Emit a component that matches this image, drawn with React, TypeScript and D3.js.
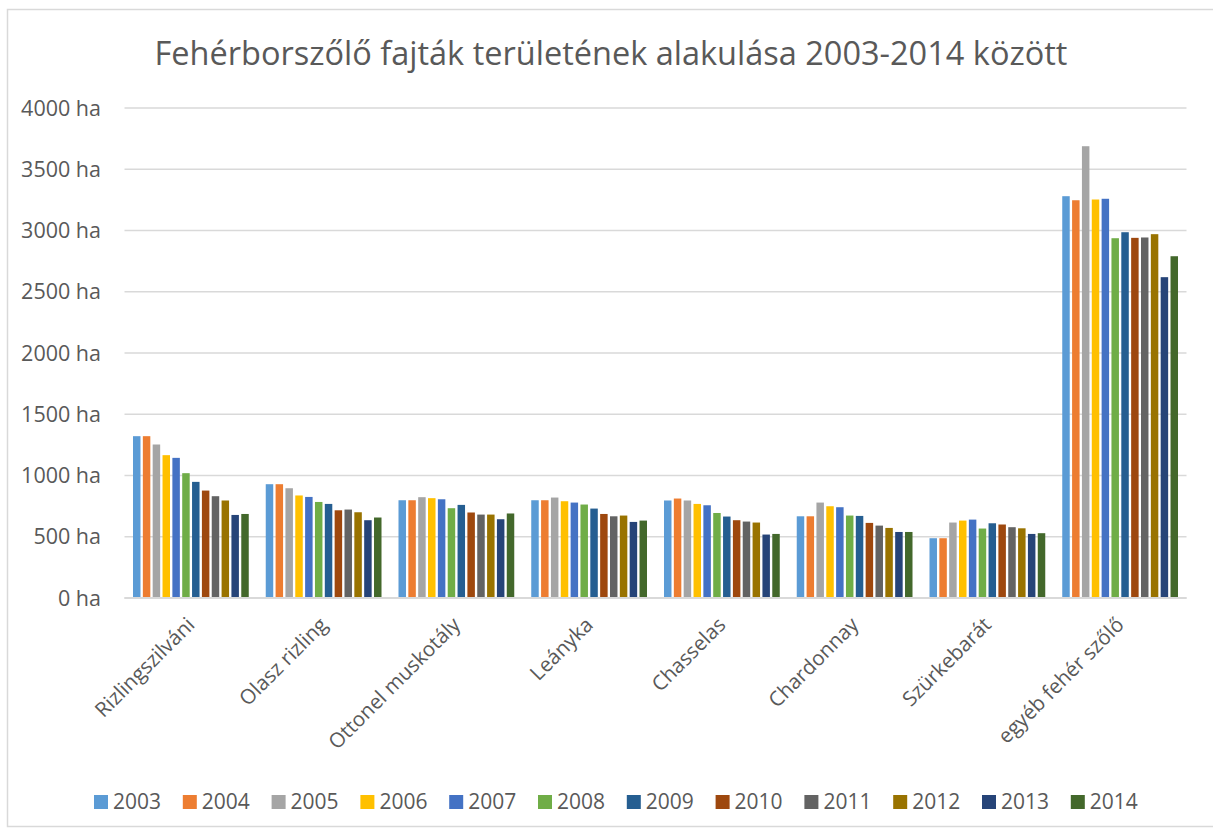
import { useEffect, useRef } from 'react';
import * as d3 from 'd3';

// Categories (grape varieties)
const varieties = [
    'Rizlingszilváni',
    'Olasz rizling',
    'Ottonel muskotály',
    'Leányka',
    'Chasselas',
    'Chardonnay',
    'Szürkebarát',
    'egyéb fehér szőlő',
];

// Years (series)
const years = ['2003', '2004', '2005', '2006', '2007', '2008', '2009', '2010', '2011', '2012', '2013', '2014'];

// Area in hectares, one array per variety, ordered by year
const rizlingszilvani = [1321, 1321, 1253, 1166, 1144, 1019, 948, 877, 831, 796, 678, 686];
const olaszRizling = [929, 929, 896, 837, 825, 784, 768, 716, 722, 700, 635, 657];
const ottonelMuskotaly = [798, 798, 823, 815, 806, 733, 760, 698, 681, 681, 643, 690];
const leanyka = [798, 798, 820, 790, 779, 763, 730, 686, 667, 673, 621, 632];
const chasselas = [796, 812, 796, 768, 757, 694, 665, 635, 624, 616, 518, 523];
const chardonnay = [667, 667, 779, 749, 741, 673, 670, 613, 591, 572, 539, 539];
const szurkebarat = [488, 488, 616, 632, 640, 567, 610, 600, 578, 569, 523, 529];
const egyebFeher = [3280, 3247, 3688, 3253, 3259, 2937, 2986, 2940, 2943, 2970, 2619, 2790];

const values = [rizlingszilvani, olaszRizling, ottonelMuskotaly, leanyka, chasselas, chardonnay, szurkebarat, egyebFeher];

// Y axis ticks
const yTicks = [0, 500, 1000, 1500, 2000, 2500, 3000, 3500, 4000];

// Office palette, one per year
const colors = ['#5B9BD5', '#ED7D31', '#A5A5A5', '#FFC000', '#4472C4', '#70AD47', '#255E91', '#9E480E', '#636363', '#997300', '#264478', '#43682B'];

const title = 'Fehérborszőlő fajták területének alakulása 2003-2014 között';

const W = 1213;
const H = 831;
const FONT = '"Open Sans", "Noto Sans", sans-serif';
const TEXT = '#595959';

const App = () => {
    const ref = useRef<SVGSVGElement>(null);

    useEffect(() => {
        const svg = d3.select(ref.current);
        svg.selectAll('*').remove();

        const left = 124.5;
        const right = 1186.5;
        const top = 108;
        const bottom = 598;

        const x0 = d3.scaleBand().domain(varieties).range([left, right]).paddingInner(0.128).paddingOuter(0.064);
        const x1 = d3.scaleBand().domain(years).range([0, x0.bandwidth()]).paddingInner(0.24);
        const y = d3.scaleLinear().domain([0, 4000]).range([bottom, top]);
        const color = d3.scaleOrdinal<string, string>().domain(years).range(colors);

        // chart frame
        svg.append('rect')
            .attr('x', 7.5).attr('y', 9.5)
            .attr('width', 1230).attr('height', 817)
            .attr('fill', '#fff')
            .attr('stroke', '#d9d9d9')
            .attr('stroke-width', 1.5);

        // title
        svg.append('text')
            .attr('x', 611)
            .attr('y', 65)
            .attr('text-anchor', 'middle')
            .attr('font-family', FONT)
            .attr('font-size', 32.5)
            .attr('fill', TEXT)
            .text(title);

        // gridlines + y labels
        const yg = svg.append('g');
        yTicks.forEach((t) => {
            yg.append('line')
                .attr('x1', left).attr('x2', right)
                .attr('y1', y(t)).attr('y2', y(t))
                .attr('stroke', '#d9d9d9')
                .attr('stroke-width', t === 0 ? 2 : 1.5);
            yg.append('text')
                .attr('x', 101)
                .attr('y', y(t))
                .attr('dy', '0.36em')
                .attr('text-anchor', 'end')
                .attr('font-family', FONT)
                .attr('font-size', 21.5)
                .attr('fill', TEXT)
                .text(`${t} ha`);
        });

        // bars
        const groups = svg.append('g')
            .selectAll('g')
            .data(varieties)
            .join('g')
            .attr('transform', (d) => `translate(${x0(d)},0)`);

        groups.selectAll('rect')
            .data((d, i) => years.map((yr, j) => ({ yr, v: values[i][j] })))
            .join('rect')
            .attr('x', (d) => x1(d.yr) as number)
            .attr('y', (d) => y(d.v))
            .attr('width', x1.bandwidth())
            .attr('height', (d) => y(0) - y(d.v))
            .attr('fill', (d) => color(d.yr));

        // redraw axis line on top of the bars
        svg.append('line')
            .attr('x1', left).attr('x2', right)
            .attr('y1', y(0)).attr('y2', y(0))
            .attr('stroke', '#d9d9d9')
            .attr('stroke-width', 2);

        // rotated category labels
        svg.append('g')
            .selectAll('text')
            .data(varieties)
            .join('text')
            .attr('transform', (d) => `translate(${(x0(d) as number) + x0.bandwidth() / 2},621) rotate(-45)`)
            .attr('dy', '0.35em')
            .attr('text-anchor', 'end')
            .attr('font-family', FONT)
            .attr('font-size', 20.5)
            .attr('fill', TEXT)
            .text((d) => d);

        // legend
        const legend = svg.append('g')
            .selectAll('g')
            .data(years)
            .join('g')
            .attr('transform', (d, i) => `translate(${94 + i * 88.8},795)`);

        legend.append('rect')
            .attr('width', 14)
            .attr('height', 14)
            .attr('fill', (d) => color(d));

        legend.append('text')
            .attr('x', 19)
            .attr('y', 14.3)
            .attr('font-family', FONT)
            .attr('font-size', 21)
            .attr('fill', TEXT)
            .text((d) => d);
    }, []);

    return (
        <svg ref={ref} width={W} height={H} style={{ position: 'absolute', left: 0, top: 0, background: '#fff' }} />
    );
};

export default App;
